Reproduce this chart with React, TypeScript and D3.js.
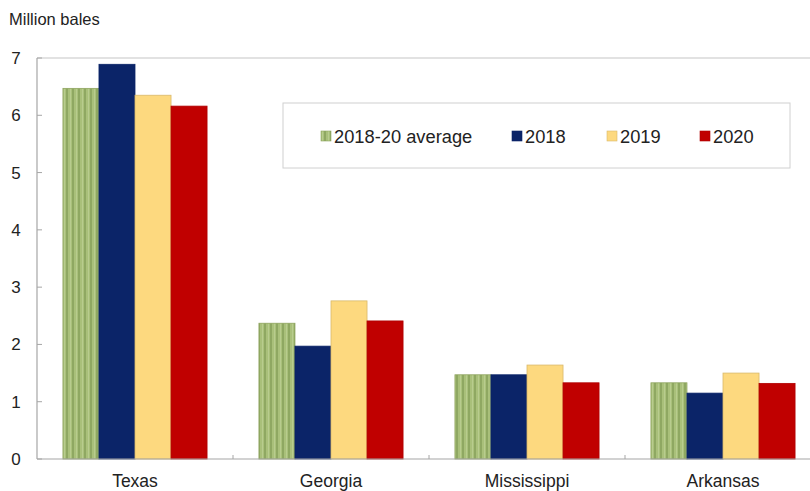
import React from "react";
import * as d3 from "d3";

const categories = ["Texas", "Georgia", "Mississippi", "Arkansas"];
const seriesNames = ["2018-20 average", "2018", "2019", "2020"];
const avgValues = [6.47, 2.37, 1.47, 1.33];
const v2018 = [6.89, 1.97, 1.47, 1.15];
const v2019 = [6.35, 2.76, 1.64, 1.5];
const v2020 = [6.16, 2.41, 1.33, 1.32];
const yTicks = [0, 1, 2, 3, 4, 5, 6, 7];

const seriesValues = [avgValues, v2018, v2019, v2020];
const fills = ["url(#greenStripe)", "#0b2468", "#fdd97f", "#c00000"];
const strokes = ["#8ea35e", "#0b2468", "#d9b96a", "#b00000"];

export default function App() {
  const W = 810, H = 491;
  const left = 37, right = 821, top = 58, bottom = 459;
  const x0 = d3.scaleBand<string>().domain(categories).range([left, right]).paddingInner(0).paddingOuter(0);
  const x1 = d3.scaleBand<string>().domain(seriesNames).range([0, x0.bandwidth()]).paddingInner(0).paddingOuter(0.72);
  const y = d3.scaleLinear().domain([0, 7]).range([bottom, top]);
  const font = "Liberation Sans, Arial, sans-serif";

  return (
    <svg width={W} height={H} style={{ position: "absolute", left: 0, top: 0, background: "#fff" }}>
      <defs>
        <pattern id="greenStripe" patternUnits="userSpaceOnUse" width="6" height="6">
          <rect width="6" height="6" fill="#a9c07a" />
          <rect x="0" width="2" height="6" fill="#8fa862" />
          <rect x="4" width="1" height="6" fill="#b8cc8e" />
        </pattern>
      </defs>
      <text x={9} y={25} fontFamily={font} fontSize={16.5} fill="#222">Million bales</text>
      <line x1={left} x2={W} y1={top} y2={top} stroke="#d9d9d9" strokeWidth={1.5} />
      {categories.map((c, ci) => (
        <g key={c}>
          {seriesNames.map((s, si) => {
            const v = seriesValues[si][ci];
            const bx = (x0(c) ?? 0) + (x1(s) ?? 0);
            return (
              <rect key={s} x={bx} y={y(v)} width={x1.bandwidth()} height={y(0) - y(v)}
                fill={fills[si]} stroke={strokes[si]} strokeWidth={0.8} />
            );
          })}
        </g>
      ))}
      <line x1={left} x2={left} y1={top} y2={bottom} stroke="#a6a6a6" strokeWidth={1.2} />
      {yTicks.map((t) => (
        <g key={t}>
          <line x1={left} x2={left + 5} y1={y(t)} y2={y(t)} stroke="#a6a6a6" strokeWidth={1} />
          <text x={16} y={y(t) + 6} textAnchor="middle" fontFamily={font} fontSize={17} fill="#222">{t}</text>
        </g>
      ))}
      <line x1={left} x2={W} y1={bottom} y2={bottom} stroke="#a6a6a6" strokeWidth={1.2} />
      {categories.slice(1).map((c) => (
        <line key={c} x1={x0(c) ?? 0} x2={x0(c) ?? 0} y1={bottom} y2={bottom - 4} stroke="#a6a6a6" strokeWidth={1} />
      ))}
      {categories.map((c) => (
        <text key={c} x={(x0(c) ?? 0) + x0.bandwidth() / 2} y={487} textAnchor="middle" fontFamily={font} fontSize={17.5} fill="#222">{c}</text>
      ))}
      <rect x={283} y={103} width={507} height={65} fill="#fff" stroke="#d0d0d0" strokeWidth={1} />
      {seriesNames.map((s, i) => {
        const lx = [321, 512, 607, 700][i];
        return (
          <g key={s}>
            <rect x={lx} y={131} width={10} height={10} fill={fills[i]} stroke={strokes[i]} strokeWidth={0.6} />
            <text x={lx + 13} y={143} fontFamily={font} fontSize={18.3} fill="#222">{s}</text>
          </g>
        );
      })}
    </svg>
  );
}
